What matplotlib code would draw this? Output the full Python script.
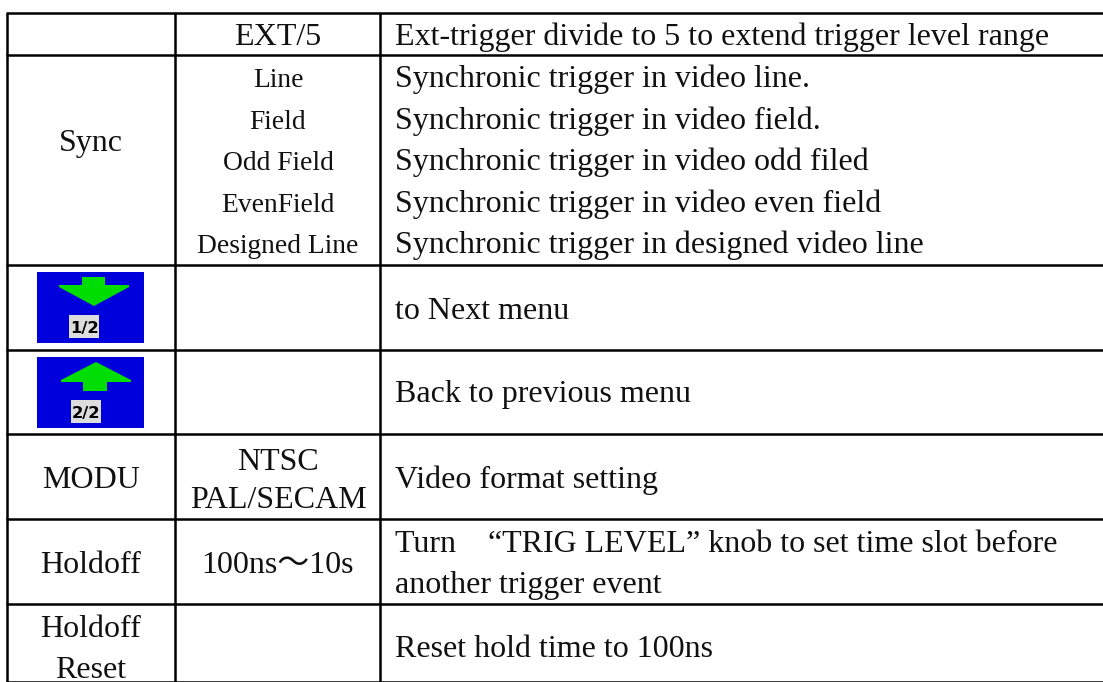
import matplotlib
matplotlib.use('Agg')
import matplotlib.pyplot as plt
from matplotlib.patches import Polygon, Rectangle

plt.rcParams['font.family'] = ['Liberation Serif', 'Noto Sans CJK SC']

# table text
col1_labels = ['Sync', 'MODU', 'Holdoff', 'Holdoff', 'Reset']
col2_big = ['EXT/5', 'NTSC', 'PAL/SECAM', '100ns～10s']
col2_small = ['Line', 'Field', 'Odd Field', 'EvenField', 'Designed Line']
col3_labels = ['Ext-trigger divide to 5 to extend trigger level range',
               'Synchronic trigger in video line.',
               'Synchronic trigger in video field.',
               'Synchronic trigger in video odd filed',
               'Synchronic trigger in video even field',
               'Synchronic trigger in designed video line',
               'to Next menu',
               'Back to previous menu',
               'Video format setting',
               'Turn    \u201cTRIG LEVEL\u201d knob to set time slot before',
               'another trigger event',
               'Reset hold time to 100ns']
icon_labels = ['1/2', '2/2']

# layout, in pixels of the page
col_lines = [7, 175, 380, 1103]
row_lines = [13, 55, 265, 349.5, 434, 519, 604, 682]
col1_y = [151, 488, 573, 637, 678]
col2_big_y = [45, 470, 508, 573]
col2_small_y = [87, 129, 170, 212, 253]
col3_y = [45, 87, 129, 170, 212, 253, 319, 402, 488, 552, 593, 657]

fig = plt.figure(figsize=(11.03, 6.82), dpi=100)
ax = fig.add_axes([0, 0, 1, 1])
ax.set_xlim(0, 1103)
ax.set_ylim(682, 0)
ax.axis('off')

# grid lines
lw = 1.8
for y in row_lines:
    ax.plot([col_lines[0] - 1, col_lines[-1]], [y, y], color='black', lw=lw, solid_capstyle='butt')
for x in col_lines[:-1]:
    ax.plot([x, x], [row_lines[0], row_lines[-1]], color='black', lw=lw, solid_capstyle='butt')

# text
for s, y in zip(col1_labels, col1_y):
    ax.text(91, y, s, fontsize=23, ha='center', va='baseline', color='#111111')
for s, y in zip(col2_big, col2_big_y):
    ax.text(278, y, s, fontsize=23, ha='center', va='baseline', color='#111111')
for s, y in zip(col2_small, col2_small_y):
    ax.text(278, y, s, fontsize=19.8, ha='center', va='baseline', color='#111111')
for s, y in zip(col3_labels, col3_y):
    ax.text(395, y, s, fontsize=23, ha='left', va='baseline', color='#111111')

# menu icons
blue = '#0000dd'
green = '#00dd00'
ax.add_patch(Rectangle((37, 272), 107, 71, color=blue, lw=0))
ax.add_patch(Polygon([(82, 277), (105, 277), (105, 285), (129, 285), (129, 287), (94, 306),
                      (59, 287), (59, 285), (82, 285)], color=green, lw=0))
ax.add_patch(Rectangle((69, 315), 30, 23, color='#dddddd', lw=0))
ax.text(84, 333, icon_labels[0], fontsize=11.8, family='DejaVu Sans', weight='bold', ha='center', va='baseline')

ax.add_patch(Rectangle((37, 357), 107, 71, color=blue, lw=0))
ax.add_patch(Polygon([(96, 362), (131, 380), (131, 382), (107, 382), (107, 391), (83, 391),
                      (83, 382), (61, 382), (61, 380)], color=green, lw=0))
ax.add_patch(Rectangle((71, 400), 30, 23, color='#dddddd', lw=0))
ax.text(86, 418, icon_labels[1], fontsize=11.8, family='DejaVu Sans', weight='bold', ha='center', va='baseline')

fig.savefig('out.png', dpi=100)
